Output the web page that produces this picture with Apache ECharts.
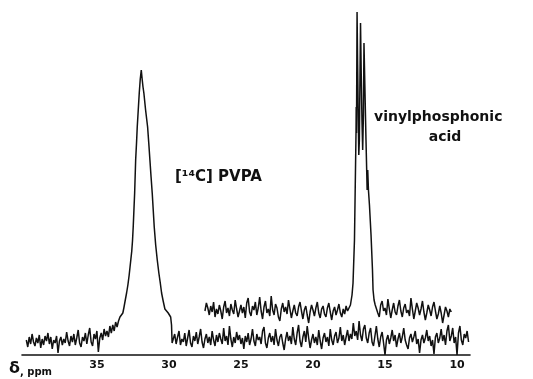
<!DOCTYPE html>
<html>
<head>
<meta charset="utf-8">
<script src="https://cdn.jsdelivr.net/npm/echarts@6/dist/echarts.min.js"></script>
<style>
html,body{margin:0;padding:0;background:#fff;}
#chart{width:533px;height:379px;}
</style>
</head>
<body>
<div id="chart"></div>
<script>
// Tick labels on the chemical-shift axis (ppm)
const tickLabels = [35, 30, 25, 20, 15, 10];

// Lower trace: [14C] PVPA  ([ppm, intensity])
const pvpaTrace = [
  [39.9,15],[39.8,8],[39.7,18],[39.6,11],[39.5,21],[39.4,13],[39.3,9],[39.2,17],[39.1,12],[39.0,20],
  [38.9,7],[38.8,16],[38.7,10],[38.6,19],[38.5,14],[38.4,22],[38.3,11],[38.2,18],[38.1,6],[38.0,15],
  [37.9,12],[37.8,19],[37.7,2],[37.6,14],[37.5,18],[37.4,10],[37.3,16],[37.2,12],[37.1,23],[37.0,14],
  [36.9,9],[36.8,19],[36.7,13],[36.6,21],[36.5,10],[36.4,17],[36.3,25],[36.2,12],[36.1,8],[36.0,18],
  [35.9,14],[35.8,22],[35.7,11],[35.6,20],[35.5,27],[35.4,13],[35.3,9],[35.2,21],[35.1,16],[35.0,24],
  [34.9,3],[34.8,17],[34.7,22],[34.6,15],
  [34.5,26],[34.4,19],[34.3,24],[34.2,18],[34.1,29],[34.0,22],[33.9,30],[33.8,24],[33.7,33],[33.6,28],
  [33.5,34],[33.4,38],[33.3,36],[33.2,42],[33.13,47],[33.03,55],[32.94,62],[32.85,70],[32.76,80],
  [32.7,88],[32.64,96],[32.58,104],[32.53,114],[32.48,128],[32.43,145],[32.38,162],[32.31,195],
  [32.25,212],[32.2,228],[32.13,245],[32.06,262],[31.99,276],[31.92,285],[31.86,276],[31.8,268],
  [31.74,262],[31.62,245],[31.48,228],[31.4,212],[31.32,195],[31.24,178],[31.16,162],[31.09,145],
  [31.02,128],[30.92,110],[30.81,95],[30.7,82],[30.6,72],[30.51,62],[30.4,54],[30.28,46],[30.18,44],
  [30.05,42],[29.95,40],[29.88,38],[29.82,30],[29.78,12],
  [29.7,14],[29.6,21],[29.5,11],[29.4,18],[29.3,24],[29.2,10],[29.1,16],[29.0,13],[28.9,22],[28.8,9],
  [28.7,17],[28.6,25],[28.5,12],[28.4,8],[28.3,19],[28.2,14],[28.1,23],[28.0,11],[27.9,18],[27.8,26],
  [27.7,13],[27.6,7],[27.5,16],[27.4,21],[27.3,12],[27.2,18],[27.1,10],[27.0,24],[26.9,15],[26.8,9],
  [26.7,20],[26.6,13],[26.5,22],[26.4,16],[26.3,11],[26.2,27],[26.1,14],[26.0,19],[25.9,10],[25.8,29],
  [25.7,16],[25.6,8],[25.5,18],[25.4,12],[25.3,23],[25.2,15],[25.1,20],[25.0,11],[24.9,17],[24.8,6],
  [24.7,19],[24.6,13],[24.5,22],[24.4,10],[24.3,16],[24.2,26],[24.1,14],[24.0,9],[23.9,21],[23.8,15],
  [23.7,18],[23.6,11],[23.5,24],[23.4,28],[23.3,12],[23.2,7],[23.1,17],[23.0,22],[22.9,13],[22.8,19],
  [22.7,10],[22.6,26],[22.5,15],[22.4,9],[22.3,18],[22.2,21],[22.1,12],[22.0,5],[21.9,16],[21.8,23],
  [21.7,14],[21.6,19],[21.5,11],[21.4,28],[21.3,16],[21.2,10],[21.1,22],[21.0,30],[20.9,14],[20.8,8],
  [20.7,18],[20.6,24],[20.5,13],[20.4,29],[20.3,17],[20.2,7],[20.1,15],[20.0,21],[19.9,12],[19.8,18],
  [19.7,10],[19.6,25],[19.5,14],[19.4,6],[19.3,17],[19.2,22],[19.1,13],[19.0,18],[18.9,9],[18.8,26],
  [18.7,15],[18.6,10],[18.5,19],[18.4,23],[18.3,12],[18.2,17],[18.1,28],[18.0,14],[17.9,20],[17.8,10],
  [17.7,18],[17.6,25],[17.5,14],[17.4,21],[17.3,16],[17.2,32],[17.1,19],[17.0,24],[16.9,15],[16.8,34],
  [16.7,20],[16.6,14],[16.5,26],[16.4,30],[16.3,17],[16.2,12],[16.1,22],[16.0,27],[15.9,13],[15.8,9],
  [15.7,19],[15.6,29],[15.5,16],[15.4,8],[15.3,18],[15.2,23],[15.1,12],[15.0,0],[14.9,15],[14.8,20],
  [14.7,11],[14.6,17],[14.5,25],[14.4,14],[14.3,20],[14.2,8],[14.1,16],[14.0,22],[13.9,12],[13.8,18],
  [13.7,27],[13.6,15],[13.5,10],[13.4,6],[13.3,17],[13.2,21],[13.1,13],[13.0,18],[12.9,24],[12.8,11],
  [12.7,16],[12.6,2],[12.5,15],[12.4,20],[12.3,12],[12.2,17],[12.1,25],[12.0,14],[11.9,19],[11.8,9],
  [11.7,15],[11.6,1],[11.5,18],[11.4,22],[11.3,12],[11.2,17],[11.1,26],[11.0,14],[10.9,20],[10.8,10],
  [10.7,24],[10.6,30],[10.5,14],[10.4,19],[10.3,27],[10.2,12],[10.1,18],[10.0,0],[9.9,22],[9.8,29],
  [9.7,15],[9.6,10],[9.5,21],[9.4,17],[9.3,24],[9.2,13]
];

// Upper trace: vinylphosphonic acid ([ppm, intensity])
const vpaTrace = [
  [27.5,44],[27.4,52],[27.3,47],[27.2,40],[27.1,49],[27.0,43],[26.9,53],[26.8,38],[26.7,46],[26.6,41],
  [26.5,50],[26.4,44],[26.3,36],[26.2,48],[26.1,54],[26.0,42],[25.9,47],[25.8,39],[25.7,51],[25.6,45],
  [25.5,41],[25.4,55],[25.3,46],[25.2,38],[25.1,44],[25.0,50],[24.9,42],[24.8,48],[24.7,37],[24.6,52],
  [24.5,57],[24.4,43],[24.3,39],[24.2,49],[24.1,45],[24.0,53],[23.9,40],[23.8,47],[23.7,58],[23.6,44],
  [23.5,36],[23.4,48],[23.3,54],[23.2,42],[23.1,46],[23.0,39],[22.9,59],[22.8,45],[22.7,40],[22.6,51],
  [22.5,47],[22.4,38],[22.3,34],[22.2,46],[22.1,52],[22.0,43],[21.9,48],[21.8,41],[21.7,55],[21.6,46],
  [21.5,37],[21.4,44],[21.3,50],[21.2,42],[21.1,39],[21.0,48],[20.9,53],[20.8,44],[20.7,36],[20.6,45],
  [20.5,49],[20.4,40],[20.3,32],[20.2,43],[20.1,50],[20.0,45],[19.9,39],[19.8,47],[19.7,53],[19.6,42],
  [19.5,37],[19.4,46],[19.3,49],[19.2,41],[19.1,38],[19.0,47],[18.9,52],[18.8,43],[18.7,35],[18.6,44],
  [18.5,48],[18.4,40],[18.3,45],[18.2,51],[18.1,42],[18.0,38],[17.9,46],[17.8,41],[17.7,49],[17.6,44],
  [17.5,47],
  [17.4,50],[17.29,60],[17.22,72],[17.12,115],[17.05,185],[17.01,225],[17.0,248],[16.98,222],
  [16.94,343],[16.9,290],[16.86,240],[16.82,200],[16.78,215],[16.70,332],[16.65,280],[16.60,235],
  [16.55,205],[16.5,240],[16.46,312],[16.4,270],[16.32,215],[16.24,165],[16.2,185],[16.15,165],
  [16.08,150],[15.97,120],[15.87,85],[15.83,65],[15.76,55],[15.68,50],
  [15.6,48],[15.5,42],[15.4,38],[15.3,50],[15.2,54],[15.1,44],[15.0,47],[14.9,40],[14.8,56],[14.7,46],
  [14.6,37],[14.5,45],[14.4,52],[14.3,43],[14.2,40],[14.1,49],[14.0,55],[13.9,44],[13.8,38],[13.7,47],
  [13.6,51],[13.5,42],[13.4,45],[13.3,39],[13.2,57],[13.1,46],[13.0,36],[12.9,44],[12.8,52],[12.7,47],
  [12.6,40],[12.5,46],[12.4,54],[12.3,43],[12.2,35],[12.1,42],[12.0,50],[11.9,45],[11.8,39],[11.7,48],
  [11.6,53],[11.5,44],[11.4,36],[11.3,41],[11.2,49],[11.1,42],[11.0,32],[10.9,40],[10.8,48],[10.7,44],
  [10.6,38],[10.5,46],[10.4,43]
];

const axisMin = 9.1;
const axisMax = 40.2;

const chart = echarts.init(document.getElementById('chart'), null, {renderer: 'canvas'});
const ink = '#111';
const lineStyle = {color: ink, width: 1.5};
const font = 'DejaVu Sans';

chart.setOption({
  animation: false,
  backgroundColor: '#fff',
  grid: {left: 22, right: 63, top: 0, bottom: 24, containLabel: false},
  xAxis: {
    type: 'value',
    inverse: true,
    min: axisMin,
    max: axisMax,
    axisLine: {show: true, lineStyle: {color: ink, width: 1.6}},
    axisTick: {show: false},
    splitLine: {show: false},
    axisLabel: {
      customValues: tickLabels,
      color: ink,
      fontSize: 11,
      fontWeight: 'bold',
      fontFamily: font,
      margin: 5
    }
  },
  yAxis: {type: 'value', min: 0, max: 355, show: false, splitLine: {show: false}},
  series: [
    {type: 'line', data: pvpaTrace, symbol: 'none', lineStyle: lineStyle, z: 2},
    {type: 'line', data: vpaTrace, symbol: 'none', lineStyle: lineStyle, z: 3}
  ],
  graphic: [
    {type: 'text', x: 9, y: 377, style: {
      text: 'δ', fontSize: 16, fontWeight: 'bold', fontFamily: font, fill: ink, verticalAlign: 'bottom'
    }},
    {type: 'text', x: 20, y: 377, style: {
      text: ', ppm', fontSize: 10, fontWeight: 'bold', fontFamily: font, fill: ink, verticalAlign: 'bottom'
    }},
    {type: 'text', x: 175, y: 177, style: {
      text: '[¹⁴C] PVPA', fontSize: 15, fontWeight: 'bold', fontFamily: font, fill: ink,
      verticalAlign: 'middle'
    }},
    {type: 'text', x: 374, y: 117, style: {
      text: 'vinylphosphonic', fontSize: 14, fontWeight: 'bold', fontFamily: font, fill: ink,
      verticalAlign: 'middle'
    }},
    {type: 'text', x: 445, y: 137, style: {
      text: 'acid', fontSize: 14, fontWeight: 'bold', fontFamily: font, fill: ink,
      align: 'center', verticalAlign: 'middle'
    }}
  ]
});
</script>
</body>
</html>
